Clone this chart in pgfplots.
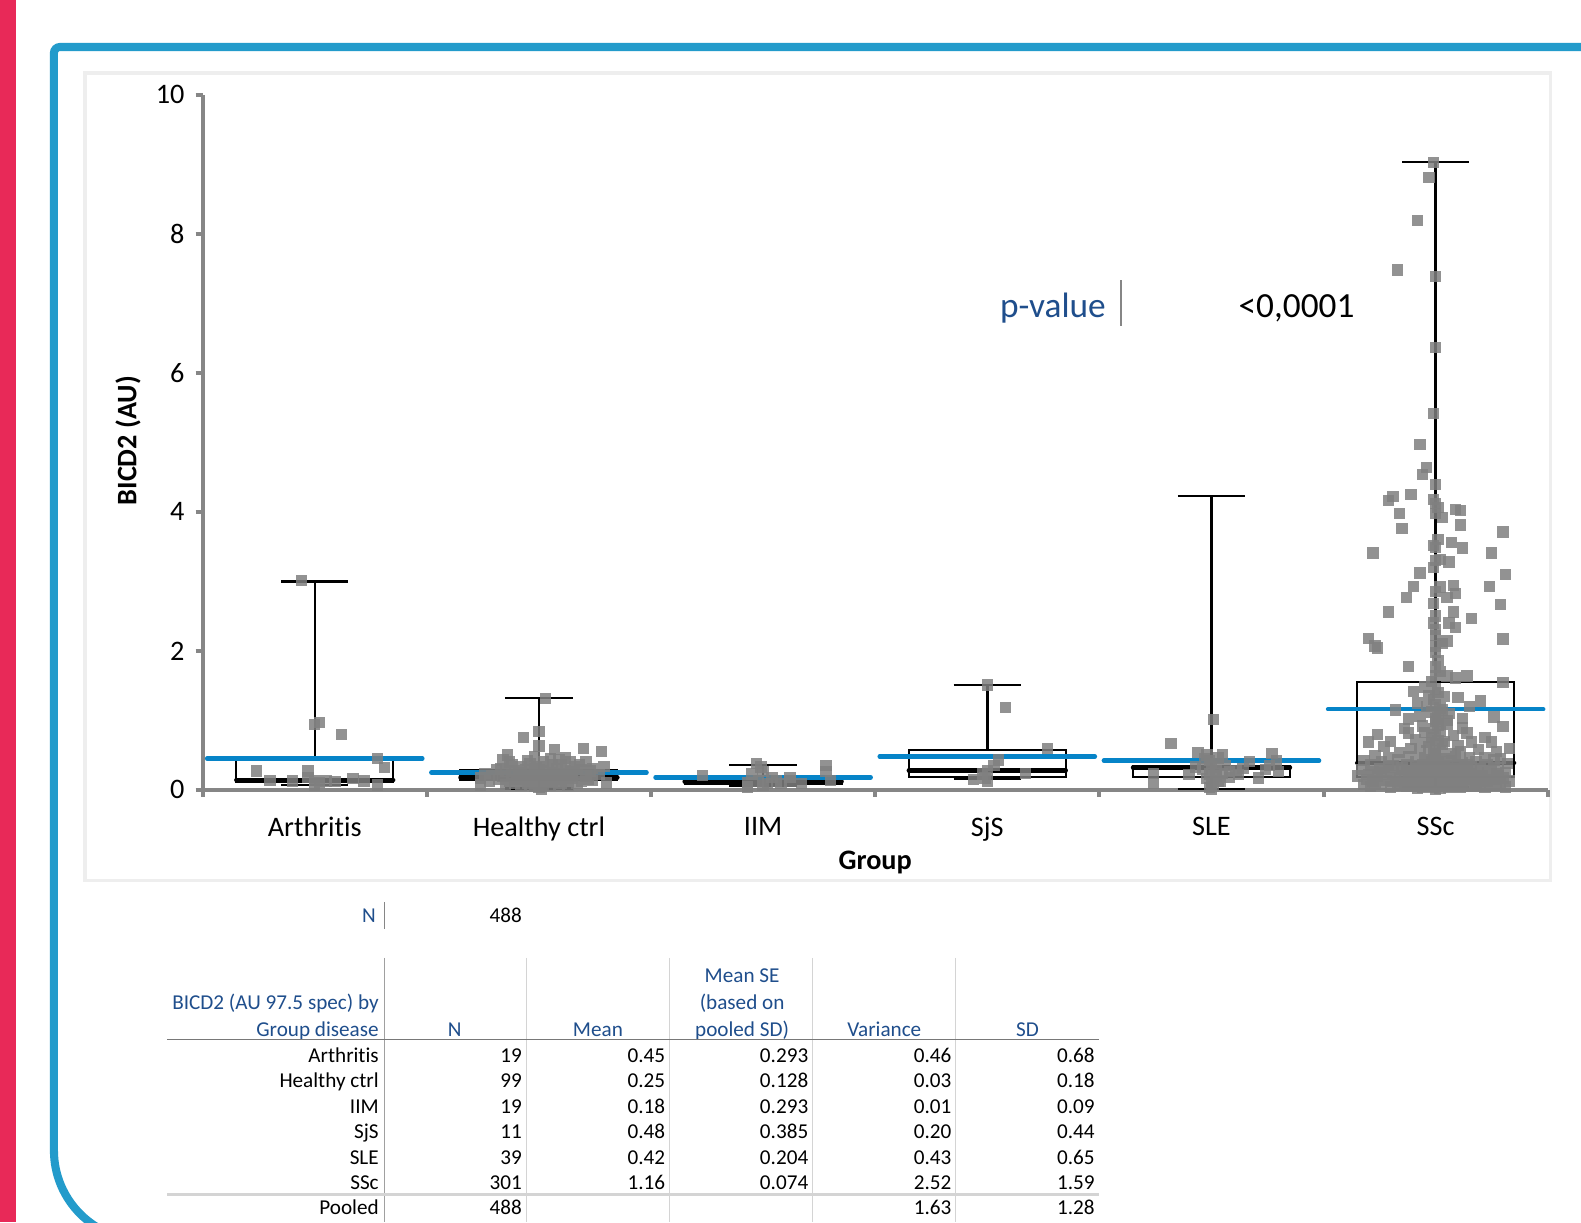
\documentclass[border=0pt]{standalone}
\usepackage{pgfplots}
\usepackage{pgfplotstable}
\pgfplotsset{compat=1.18}
\usepgfplotslibrary{statistics}
\usepackage{fontspec}
\setmainfont{Carlito}[Ligatures=CommonOff]

\definecolor{redbar}{RGB}{232,41,88}
\definecolor{frameblue}{RGB}{35,155,203}
\definecolor{panelgray}{RGB}{238,238,238}
\definecolor{axisgray}{RGB}{134,134,134}
\definecolor{ptgray}{RGB}{128,128,128}
\definecolor{meanblue}{RGB}{6,132,200}
\definecolor{hdrblue}{RGB}{31,78,140}
\definecolor{rulegray}{RGB}{212,212,212}
\definecolor{darkrule}{RGB}{120,120,120}

\newcommand\tabfont{\fontsize{10.5}{12}\selectfont}
\newcommand\cellR[3]{\node[anchor=base east, font=\tabfont, inner sep=0pt] at (#1,#2) {#3};}
\newcommand\cellH[3]{\node[anchor=base, font=\tabfont, text=hdrblue, inner sep=0pt] at (#1,#2) {#3};}

% individual values: offset within the category, value (AU)
\pgfplotstableread[row sep=\\]{dx v\\
-0.06 3.01\\ 0.00 0.94\\ 0.02 0.97\\ 0.12 0.80\\ -0.26 0.27\\ -0.03 0.27\\ 0.28 0.45\\ 0.31 0.32\\ 0.00 0.14\\ 0.02 0.11\\
0.05 0.13\\ 0.09 0.12\\ 0.17 0.16\\ 0.28 0.07\\ 0.00 0.06\\ -0.20 0.14\\ -0.10 0.13\\ 0.22 0.13\\ -0.03 0.18\\
}\arthritis

\pgfplotstableread[row sep=\\]{dx v\\
0.03 1.31\\ -0.07 0.75\\ 0.00 0.84\\ 0.00 0.63\\ 0.07 0.58\\ 0.20 0.60\\ 0.28 0.55\\ -0.14 0.50\\ -0.16 0.43\\ 0.14 0.40\\
0.21 0.41\\ 0.29 0.34\\ -0.26 0.17\\ -0.26 0.07\\ 0.24 0.14\\ 0.30 0.10\\ -0.19 0.29\\
-0.12 0.36\\ -0.04 0.38\\ 0.02 0.40\\ 0.06 0.36\\ 0.10 0.37\\ -0.08 0.33\\ 0.16 0.33\\ 0.24 0.31\\ -0.17 0.31\\ 0.00 0.34\\
-0.15 0.26\\ -0.11 0.28\\ -0.06 0.29\\ -0.02 0.30\\ 0.01 0.27\\ 0.04 0.29\\ 0.08 0.30\\ 0.12 0.28\\ 0.15 0.26\\ 0.19 0.29\\
0.23 0.27\\ -0.09 0.25\\ 0.06 0.25\\ -0.01 0.32\\ 0.10 0.24\\
-0.21 0.21\\ -0.16 0.19\\ -0.12 0.22\\ -0.07 0.20\\ -0.04 0.23\\ -0.01 0.19\\ 0.02 0.22\\ 0.05 0.20\\ 0.07 0.23\\ 0.11 0.21\\
0.14 0.19\\ 0.17 0.22\\ 0.21 0.20\\ -0.03 0.18\\ 0.03 0.18\\ 0.09 0.18\\ -0.09 0.17\\ 0.13 0.24\\
-0.22 0.13\\ -0.18 0.15\\ -0.13 0.12\\ -0.10 0.15\\ -0.06 0.13\\ -0.03 0.16\\ 0.00 0.12\\ 0.03 0.15\\ 0.06 0.11\\ 0.08 0.15\\
0.12 0.13\\ 0.15 0.16\\ 0.19 0.12\\ 0.22 0.15\\ -0.01 0.10\\ 0.04 0.13\\ -0.05 0.10\\ 0.10 0.10\\
-0.15 0.08\\ -0.08 0.07\\ -0.02 0.05\\ 0.00 0.03\\ 0.02 0.07\\ 0.05 0.06\\ 0.09 0.08\\ 0.13 0.06\\ 0.17 0.09\\ -0.11 0.09\\
0.01 0.01\\ -0.04 0.08\\
0.27 0.22\\ -0.24 0.24\\ 0.05 0.45\\ -0.02 0.48\\ 0.09 0.44\\ -0.05 0.42\\ 0.12 0.46\\ 0.18 0.36\\ -0.13 0.40\\
}\healthy

\pgfplotstableread[row sep=\\]{dx v\\
-0.27 0.21\\ -0.03 0.38\\ -0.01 0.33\\ 0.00 0.26\\ -0.02 0.13\\ 0.00 0.06\\ -0.07 0.11\\ 0.04 0.18\\ 0.06 0.13\\ 0.12 0.18\\
0.12 0.13\\ 0.17 0.09\\ 0.28 0.35\\ 0.28 0.26\\ 0.30 0.14\\ 0.02 0.09\\ -0.05 0.23\\ 0.08 0.09\\ -0.07 0.04\\
}\iim

\pgfplotstableread[row sep=\\]{dx v\\
0.00 1.51\\ 0.08 1.19\\ 0.27 0.60\\ 0.05 0.43\\ 0.03 0.35\\ 0.00 0.28\\ -0.02 0.23\\ -0.06 0.15\\ -0.01 0.17\\ 0.17 0.24\\
0.00 0.13\\
}\sjs

\pgfplotstableread[row sep=\\]{dx v\\
0.01 1.01\\ -0.18 0.67\\ -0.06 0.54\\ 0.05 0.51\\ 0.27 0.52\\ -0.02 0.50\\ -0.07 0.33\\ 0.17 0.41\\ 0.29 0.42\\ 0.30 0.26\\
0.21 0.17\\ -0.26 0.24\\ -0.26 0.09\\ 0.08 0.26\\ 0.11 0.28\\ 0.08 0.18\\ 0.00 0.09\\ 0.00 0.01\\ 0.01 0.38\\ 0.02 0.28\\
-0.01 0.23\\ 0.04 0.13\\ -0.03 0.45\\ 0.03 0.46\\ -0.01 0.42\\ 0.00 0.33\\ 0.02 0.20\\ -0.02 0.16\\ 0.01 0.05\\ 0.06 0.35\\
-0.04 0.30\\ 0.05 0.24\\ 0.14 0.31\\ 0.12 0.22\\ 0.26 0.35\\ 0.24 0.29\\ -0.10 0.22\\ 0.03 0.12\\ -0.01 0.03\\
}\sle

\pgfplotstableread[row sep=\\]{dx v\\
-0.01 9.03\\ -0.03 8.81\\ -0.08 8.19\\ -0.17 7.48\\ 0.00 7.39\\ 0.00 6.36\\ -0.01 5.41\\ -0.07 4.97\\ -0.04 4.64\\ -0.06 4.54\\
0.00 4.39\\ -0.19 4.22\\ -0.21 4.16\\ -0.11 4.25\\ -0.01 4.18\\ 0.00 4.12\\ 0.01 4.06\\ 0.09 4.03\\ 0.11 4.02\\ -0.16 3.98\\
0.03 3.92\\ 0.00 3.98\\ 0.11 3.81\\ -0.15 3.76\\ 0.30 3.71\\ -0.01 3.52\\ 0.00 3.49\\ 0.07 3.56\\ 0.12 3.48\\ -0.28 3.41\\
0.25 3.41\\ 0.00 3.30\\ 0.02 3.31\\ 0.06 3.28\\ -0.07 3.12\\ 0.31 3.10\\ -0.10 2.93\\ -0.13 2.77\\ 0.02 2.92\\ 0.08 2.94\\
0.09 2.83\\ 0.05 2.77\\ 0.24 2.93\\ 0.29 2.67\\ -0.21 2.56\\ 0.00 2.50\\ -0.01 2.40\\ 0.08 2.56\\ 0.16 2.47\\ 0.06 2.40\\
0.09 2.34\\ 0.00 2.31\\ -0.30 2.18\\ -0.27 2.07\\ -0.26 2.04\\ 0.05 2.14\\ 0.03 2.11\\ 0.30 2.17\\ 0.00 2.07\\ 0.00 1.98\\
-0.12 1.78\\ 0.00 1.77\\ 0.00 1.65\\ 0.05 1.64\\ 0.09 1.61\\ 0.14 1.64\\ 0.30 1.54\\ -0.02 1.56\\ 0.01 1.86\\ -0.01 2.68\\
0.00 2.85\\ 0.01 3.60\\ -0.01 3.20\\ 0.00 2.22\\ 0.02 1.70\\
-0.03 1.36\\ 0.04 1.34\\ 0.10 1.33\\ -0.08 1.25\\ -0.07 1.06\\ 0.26 1.05\\ 0.00 1.45\\ 0.01 1.40\\ -0.01 1.30\\ 0.00 1.22\\
0.02 1.18\\ -0.02 1.12\\ 0.01 1.08\\ 0.00 1.02\\ 0.03 1.15\\ -0.04 1.20\\ 0.06 1.10\\ -0.10 1.42\\ 0.12 1.03\\ 0.20 1.28\\
-0.18 1.15\\ 0.15 1.20\\ -0.05 1.48\\ 0.05 1.00\\ -0.12 1.02\\
0.30 0.91\\ -0.14 0.88\\ -0.12 0.82\\ -0.30 0.69\\ -0.20 0.70\\ 0.12 0.89\\ 0.14 0.82\\ 0.16 0.69\\ 0.25 0.69\\ 0.27 0.55\\
-0.07 0.57\\ -0.04 0.68\\ 0.00 0.98\\ 0.01 0.93\\ -0.01 0.88\\ 0.02 0.84\\ 0.00 0.79\\ -0.02 0.75\\ 0.01 0.71\\ 0.03 0.66\\
-0.03 0.62\\ 0.00 0.60\\ 0.02 0.56\\ -0.01 0.52\\ 0.05 0.95\\ -0.06 0.92\\ 0.08 0.78\\ -0.09 0.73\\ 0.10 0.64\\ -0.11 0.60\\
0.19 0.58\\ -0.16 0.54\\ 0.22 0.75\\ -0.23 0.62\\ 0.07 0.52\\ -0.05 0.83\\ 0.04 0.70\\ 0.33 0.60\\ -0.26 0.80\\ 0.11 0.55\\
-0.27 0.49\\ -0.21 0.46\\ -0.12 0.48\\ -0.05 0.47\\ 0.00 0.49\\ 0.04 0.45\\ 0.09 0.48\\ 0.15 0.46\\ 0.22 0.47\\ 0.29 0.45\\
-0.32 0.42\\ -0.24 0.40\\ -0.17 0.43\\ -0.09 0.41\\ -0.02 0.44\\ 0.02 0.40\\ 0.07 0.42\\ 0.12 0.39\\ 0.18 0.41\\ 0.26 0.43\\
0.32 0.38\\ -0.29 0.36\\ -0.19 0.35\\ -0.13 0.37\\ -0.06 0.36\\ 0.00 0.38\\ 0.05 0.35\\ 0.10 0.37\\ 0.16 0.34\\ 0.23 0.36\\
-0.25 0.31\\ -0.15 0.32\\ -0.08 0.30\\ -0.03 0.33\\ 0.01 0.31\\ 0.06 0.30\\ 0.13 0.32\\ 0.20 0.30\\ 0.28 0.32\\ -0.33 0.29\\
-0.28 0.26\\ -0.20 0.27\\ -0.11 0.28\\ -0.04 0.26\\ 0.00 0.27\\ 0.03 0.25\\ 0.08 0.27\\ 0.14 0.28\\ 0.19 0.25\\ 0.25 0.27\\
0.31 0.25\\ -0.30 0.22\\ -0.23 0.23\\ -0.16 0.21\\ -0.10 0.24\\ -0.05 0.22\\ -0.01 0.23\\ 0.04 0.21\\ 0.09 0.23\\ 0.15 0.22\\
0.21 0.21\\ 0.27 0.23\\ -0.26 0.19\\ -0.18 0.18\\ -0.12 0.19\\ -0.07 0.17\\ -0.02 0.19\\ 0.02 0.18\\ 0.06 0.19\\ 0.11 0.17\\
0.17 0.18\\ 0.24 0.19\\ 0.30 0.17\\ -0.31 0.15\\ -0.22 0.14\\ -0.14 0.16\\ -0.08 0.14\\ -0.03 0.15\\ 0.01 0.14\\ 0.05 0.16\\
0.10 0.14\\ 0.13 0.15\\ 0.19 0.13\\ 0.26 0.15\\ -0.27 0.11\\ -0.19 0.12\\ -0.11 0.10\\ -0.06 0.12\\ 0.00 0.11\\ 0.03 0.10\\
0.07 0.12\\ 0.12 0.10\\ 0.18 0.11\\ 0.23 0.12\\ 0.29 0.10\\ -0.24 0.08\\ -0.16 0.07\\ -0.09 0.08\\ -0.04 0.06\\ 0.00 0.08\\
0.04 0.07\\ 0.08 0.06\\ 0.14 0.08\\ 0.20 0.07\\ 0.27 0.06\\ -0.29 0.05\\ -0.20 0.04\\ -0.13 0.05\\ -0.06 0.03\\ -0.01 0.04\\
0.02 0.02\\ 0.06 0.04\\ 0.11 0.03\\ 0.16 0.05\\ 0.22 0.03\\ 0.31 0.04\\ -0.08 0.02\\ 0.00 0.01\\ -0.02 0.35\\ 0.01 0.29\\
0.00 0.21\\ -0.01 0.16\\ 0.02 0.13\\ -0.02 0.09\\ 0.01 0.06\\ 0.00 0.45\\ 0.01 0.40\\ -0.01 0.32\\ 0.02 0.24\\ 0.00 0.19\\
-0.03 0.12\\ 0.03 0.08\\ -0.04 0.40\\ 0.04 0.33\\ -0.05 0.28\\ 0.05 0.22\\ -0.06 0.18\\ 0.06 0.13\\ -0.07 0.09\\ 0.07 0.05\\
-0.09 0.35\\ 0.09 0.31\\ -0.10 0.26\\ 0.10 0.20\\ -0.12 0.15\\ 0.12 0.09\\ -0.14 0.06\\ 0.14 0.36\\ -0.15 0.29\\ 0.16 0.24\\
-0.17 0.10\\ 0.18 0.05\\ -0.21 0.33\\ 0.21 0.16\\ -0.24 0.25\\ 0.24 0.09\\ -0.28 0.13\\ 0.28 0.20\\ -0.32 0.08\\ 0.33 0.13\\
-0.35 0.20\\
}\ssc

\begin{document}
\begin{tikzpicture}[x=0.5pt,y=0.5pt]
% page, side bar and framed panel
\fill[white] (0,0) rectangle (1568,1212);
\fill[redbar] (0,0) rectangle (16,1212);
\draw[frameblue, line width=4pt] (1650,1165.4) [rounded corners=3pt] -- (53.5,1165.4)
  [rounded corners=44.5pt] -- (53.5,-18) -- (1650,-18);
\draw[panelgray, line width=1.5pt] (84.3,1139.6) rectangle (1538,339);

\begin{axis}[
  at={(100.5pt,214.3pt)}, anchor=south west,
  scale only axis, width=667pt, height=344.7pt,
  xmin=-0.5, xmax=5.5, ymin=0, ymax=10,
  clip=false,
  axis lines=left,
  axis line style={-, draw=axisgray, line width=2pt},
  tick align=outside, major tick length=3.5pt,
  tick style={draw=axisgray, line width=2pt},
  ytick={0,2,4,6,8,10},
  /pgf/number format/assume math mode=true,
  yticklabel style={font=\fontsize{14}{16}\selectfont, xshift=-2pt},
  xtick={-0.5,0.5,1.5,2.5,3.5,4.5,5.5},
  xticklabels={},
  extra x ticks={0,1,2,3,4,5},
  extra x tick labels={Arthritis,Healthy ctrl,IIM,SjS,SLE,SSc},
  extra x tick style={major tick length=0pt,
    xticklabel style={font=\fontsize{14}{16}\selectfont, yshift=-10pt}},
  boxplot/draw direction=y,
  boxplot/every box/.style={line width=1pt},
  boxplot/every whisker/.style={line width=1.2pt},
  boxplot/every median/.style={line width=2.2pt, line cap=round},
]
% box plots
\addplot[black, boxplot prepared={draw position=0, lower whisker=0.07, lower quartile=0.11,
  median=0.14, upper quartile=0.44, upper whisker=3.0, box extend=0.7, whisker extend=0.3}] coordinates {};
\addplot[black, boxplot prepared={draw position=1, lower whisker=0.02, lower quartile=0.14,
  median=0.18, upper quartile=0.29, upper whisker=1.32, box extend=0.7, whisker extend=0.3}] coordinates {};
\addplot[black, boxplot prepared={draw position=2, lower whisker=0.06, lower quartile=0.09,
  median=0.12, upper quartile=0.15, upper whisker=0.36, box extend=0.7, whisker extend=0.3}] coordinates {};
\addplot[black, boxplot prepared={draw position=3, lower whisker=0.16, lower quartile=0.19,
  median=0.28, upper quartile=0.58, upper whisker=1.51, box extend=0.7, whisker extend=0.3}] coordinates {};
\addplot[black, boxplot prepared={draw position=4, lower whisker=0.01, lower quartile=0.18,
  median=0.32, upper quartile=0.35, upper whisker=4.23, box extend=0.7, whisker extend=0.3}] coordinates {};
\addplot[black, boxplot prepared={draw position=5, lower whisker=0.04, lower quartile=0.19,
  median=0.39, upper quartile=1.55, upper whisker=9.03, box extend=0.7, whisker extend=0.3}] coordinates {};

% group means
\pgfplotsset{meanline/.style={meanblue, line width=2.2pt, line cap=round}}
\addplot[meanline] coordinates {(-0.48,0.45) (0.48,0.45)};
\addplot[meanline] coordinates {(0.52,0.25) (1.48,0.25)};
\addplot[meanline] coordinates {(1.52,0.18) (2.48,0.18)};
\addplot[meanline] coordinates {(2.52,0.48) (3.48,0.48)};
\addplot[meanline] coordinates {(3.52,0.42) (4.48,0.42)};
\addplot[meanline] coordinates {(4.52,1.16) (5.48,1.16)};

% individual observations
\pgfplotsset{obs/.style={ptgray, only marks, mark=square*, mark size=2.8pt,
  mark options={fill=ptgray, draw opacity=0, fill opacity=0.85}}}
\addplot[obs] table[x expr=\thisrow{dx}+0, y=v] {\arthritis};
\addplot[obs] table[x expr=\thisrow{dx}+1, y=v] {\healthy};
\addplot[obs] table[x expr=\thisrow{dx}+2, y=v] {\iim};
\addplot[obs] table[x expr=\thisrow{dx}+3, y=v] {\sjs};
\addplot[obs] table[x expr=\thisrow{dx}+4, y=v] {\sle};
\addplot[obs] table[x expr=\thisrow{dx}+5, y=v] {\ssc};
\end{axis}

% axis titles
\node[rotate=90, font=\bfseries\fontsize{14}{16}\selectfont] at (127,775) {BICD2 (AU)};
\node[font=\bfseries\fontsize{14}{16}\selectfont] at (868,357) {Group};

% test result
\node[anchor=base east, text=hdrblue, font=\fontsize{17.5}{20}\selectfont, inner sep=0pt] at (1097,897) {p-value};
\draw[axisgray, line width=1pt] (1112,934) -- (1112,889);
\node[anchor=base west, font=\fontsize{17.5}{20}\selectfont, inner sep=0pt] at (1228,897) {<0,0001};

% summary table
\node[anchor=base east, font=\tabfont, text=hdrblue, inner sep=0pt] at (373,297) {N};
\draw[axisgray, line width=0.6pt] (381,317) -- (381,291);
\cellR{518}{297}{488}

\draw[darkrule!70, line width=0.6pt] (381,262) -- (381,0);
\foreach \cx in {522,664,806,948} \draw[rulegray, line width=0.6pt] (\cx,262) -- (\cx,0);

\node[anchor=base east, font=\tabfont, text=hdrblue, inner sep=0pt] at (376,211) {BICD2 (AU 97.5 spec) by};
\node[anchor=base east, font=\tabfont, text=hdrblue, inner sep=0pt] at (376,184) {Group disease};
\cellH{451}{184}{N}
\cellH{593}{184}{Mean}
\cellH{736}{238}{Mean SE}
\cellH{736}{211}{(based on}
\cellH{736}{184}{pooled SD)}
\cellH{877}{184}{Variance}
\cellH{1019}{184}{SD}
\draw[darkrule, line width=0.8pt] (166,181) -- (1090,181);

\cellR{376}{158}{Arthritis}    \cellR{518}{158}{19}  \cellR{660}{158}{0.45} \cellR{802}{158}{0.293} \cellR{944}{158}{0.46} \cellR{1086}{158}{0.68}
\cellR{376}{133}{Healthy ctrl} \cellR{518}{133}{99}  \cellR{660}{133}{0.25} \cellR{802}{133}{0.128} \cellR{944}{133}{0.03} \cellR{1086}{133}{0.18}
\cellR{376}{108}{IIM}          \cellR{518}{108}{19}  \cellR{660}{108}{0.18} \cellR{802}{108}{0.293} \cellR{944}{108}{0.01} \cellR{1086}{108}{0.09}
\cellR{376}{83}{SjS}           \cellR{518}{83}{11}   \cellR{660}{83}{0.48}  \cellR{802}{83}{0.385}  \cellR{944}{83}{0.20}  \cellR{1086}{83}{0.44}
\cellR{376}{57}{SLE}           \cellR{518}{57}{39}   \cellR{660}{57}{0.42}  \cellR{802}{57}{0.204}  \cellR{944}{57}{0.43}  \cellR{1086}{57}{0.65}
\cellR{376}{32}{SSc}           \cellR{518}{32}{301}  \cellR{660}{32}{1.16}  \cellR{802}{32}{0.074}  \cellR{944}{32}{2.52}  \cellR{1086}{32}{1.59}
\draw[rulegray, line width=1.5pt] (166,27) -- (1090,27);
\cellR{376}{7}{Pooled}         \cellR{518}{7}{488}   \cellR{944}{7}{1.63}   \cellR{1086}{7}{1.28}

\pgfresetboundingbox
\path[use as bounding box] (0,0) rectangle (1568,1212);
\end{tikzpicture}
\end{document}
